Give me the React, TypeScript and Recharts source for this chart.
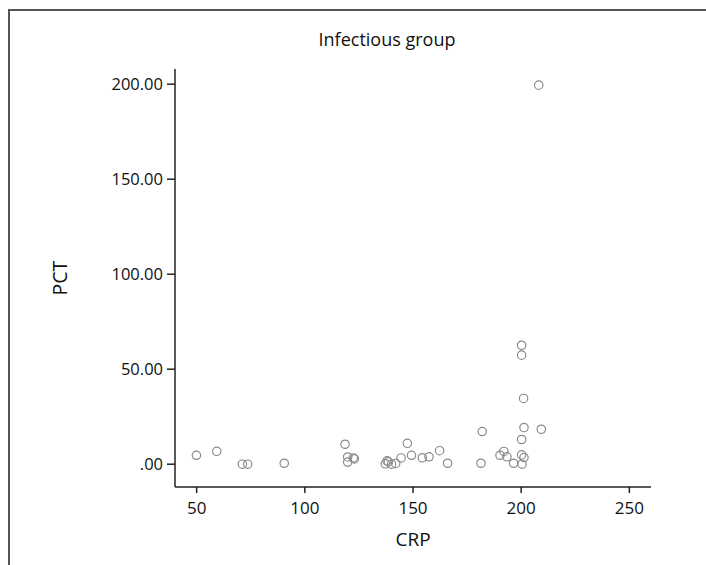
import React from 'react';
import { ScatterChart, Scatter, XAxis, YAxis } from 'recharts';

// CRP on x, PCT on y
const crp = [
  49.9, 59.3, 71.1, 73.6, 90.5,
  118.6, 119.8, 119.8, 122.4, 122.9,
  137.2, 138.0, 138.6, 140.1, 142.0, 144.5, 147.4, 149.3, 154.3, 157.4, 162.3, 166.0,
  181.4, 182.0, 190.2, 192.0, 193.4, 196.5, 200.2, 200.2, 200.2, 201.1, 201.3, 200.2, 201.3, 200.4,
  208.1, 209.3,
];
const pct = [
  4.7, 6.8, 0.0, 0.0, 0.5,
  10.5, 3.8, 1.1, 3.3, 2.8,
  0.2, 1.8, 1.2, 0.0, 0.4, 3.3, 11.0, 4.7, 3.4, 3.9, 7.1, 0.5,
  0.5, 17.2, 4.7, 6.7, 3.9, 0.5, 13.0, 62.6, 57.4, 34.6, 19.3, 4.9, 3.5, 0.0,
  199.5, 18.4,
];
const xTicks = [50, 100, 150, 200, 250];
const yTicks = [0, 50, 100, 150, 200];

const points = crp.map((x, i) => ({ x, y: pct[i] }));

const font = '"Open Sans", sans-serif';
const axisColor = '#222';

const Ring = (props: any) => {
  const { cx, cy } = props;
  return <circle cx={cx} cy={cy} r={4.2} fill="none" stroke="#8a8a8a" strokeWidth={1.2} />;
};

const fmtY = (v: number) => (v === 0 ? '.00' : v.toFixed(2));

export default function App() {
  return (
    <div
      style={{
        position: 'fixed',
        left: 0,
        top: 0,
        width: 706,
        height: 565,
        overflow: 'hidden',
        fontFamily: font,
        background: '#fff',
      }}
    >
      <style>{'html, body { overflow: hidden; }'}</style>
      {/* outer frame, only top and left edges show in the crop */}
      <svg width={706} height={565} style={{ position: 'absolute', left: 0, top: 0 }}>
        <path d="M9 565 L9 10 L706 10" fill="none" stroke="#555" strokeWidth={2} />
      </svg>
      <div
        style={{
          position: 'absolute',
          left: 387,
          top: 27,
          transform: 'translateX(-50%)',
          fontSize: 18,
          color: '#111',
          whiteSpace: 'nowrap',
        }}
      >
        Infectious group
      </div>
      <ScatterChart
        width={698}
        height={557}
        margin={{ top: 61, right: 55, left: 47, bottom: 48 }}
        style={{ position: 'absolute', left: 8, top: 8 }}
      >
        <XAxis
          type="number"
          dataKey="x"
          domain={[40, 260]}
          ticks={xTicks}
          height={30}
          tickSize={6}
          tickMargin={9}
          tick={{ fill: '#111', fontSize: 17, fontFamily: font }}
          axisLine={{ stroke: axisColor, strokeWidth: 1.5 }}
          tickLine={{ stroke: axisColor, strokeWidth: 1.5 }}
          label={{ value: 'CRP', position: 'bottom', offset: 16, fill: '#111', fontSize: 19, fontFamily: font }}
        />
        <YAxis
          type="number"
          dataKey="y"
          domain={[-12, 208]}
          ticks={yTicks}
          width={120}
          tickSize={8}
          tickMargin={4}
          tickFormatter={fmtY}
          tick={{ fill: '#111', fontSize: 16.5, fontFamily: font }}
          axisLine={{ stroke: axisColor, strokeWidth: 1.5 }}
          tickLine={{ stroke: axisColor, strokeWidth: 1.5 }}
          label={{
            value: 'PCT',
            angle: -90,
            position: 'insideLeft',
            offset: 5,
            fill: '#111',
            fontSize: 19.5,
            fontFamily: font,
            style: { textAnchor: 'middle' },
          }}
        />
        <Scatter data={points} shape={Ring} isAnimationActive={false} />
      </ScatterChart>
    </div>
  );
}
